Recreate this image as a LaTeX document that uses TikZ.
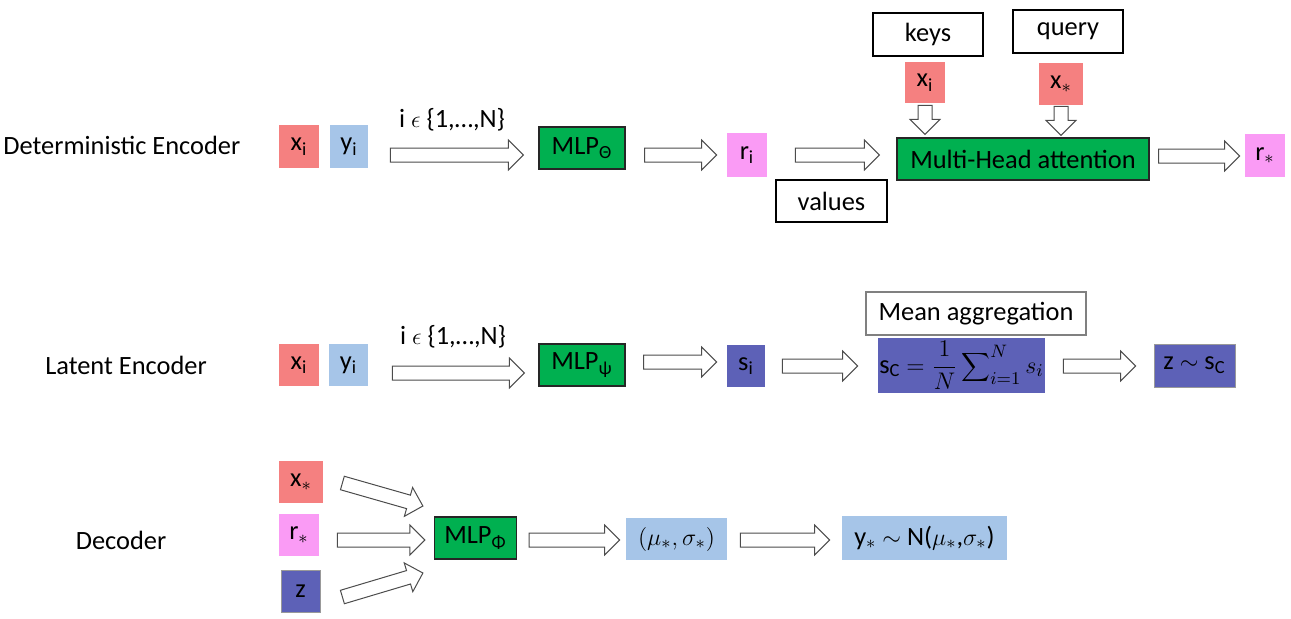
\documentclass[tikz,border=0pt]{standalone}
\usepackage{fontspec}
\setmainfont{Carlito}
\usetikzlibrary{calc}
\definecolor{cellred}{RGB}{245,128,128}
\definecolor{cellblue}{RGB}{166,197,232}
\definecolor{cellpink}{RGB}{250,155,245}
\definecolor{cellnavy}{RGB}{93,97,183}
\definecolor{mlpgreen}{RGB}{0,176,80}
\newcommand{\cellfont}{\fontsize{13.2}{16}\selectfont}
\newcommand{\lsub}[1]{\textsubscript{#1}}
\tikzset{
	cell/.style={inner sep=0pt, font=\cellfont, text=black},
	sz/.style 2 args={minimum width=#1*0.5pt, minimum height=#2*0.5pt}
}
\tikzset{
	redcell/.style={cell, fill=cellred},
	bluecell/.style={cell, fill=cellblue},
	pinkcell/.style={cell, fill=cellpink},
	navycell/.style={cell, fill=cellnavy},
	mlpbox/.style={cell, fill=mlpgreen, draw=black!85, line width=0.6pt},
	tagbox/.style={cell, fill=white, draw=black, line width=0.6pt},
	rowlabel/.style={inner sep=0pt, font=\cellfont}
}
\tikzset{
	fatarrow/.style={draw=black!70, fill=white, line width=0.5pt, line join=miter,
		to path={($(\tikztotarget)!7.5pt!(\tikztostart)$) coordinate (bh)
			($(\tikztostart)!3.5pt!90:(\tikztotarget)$)
			-- ($(bh)!3.5pt!90:(\tikztotarget)$) -- ($(bh)!7.5pt!90:(\tikztotarget)$)
			-- (\tikztotarget)
			-- ($(bh)!7.5pt!-90:(\tikztotarget)$) -- ($(bh)!3.5pt!-90:(\tikztotarget)$)
			-- ($(\tikztostart)!3.5pt!-90:(\tikztotarget)$) -- cycle}}
}
\begin{document}
\begin{tikzpicture}[x=0.5pt, y=-0.5pt]
      \useasboundingbox (0,0) rectangle (1291,618);
      % deterministic path
      \node[rowlabel, anchor=west] (detlab) at (3,145) {Deterministic Encoder};
      \node[redcell, sz={40}{43}] (xi1) at (299,146.5) {x\lsub{i}};
      \node[bluecell, sz={38}{43}] (yi1) at (349,146.5) {y\lsub{i}};
      \node[cell] (idx1) at (452,120) {i $\epsilon$ \{1,…,N\}};
      \node[mlpbox, sz={86}{42}] (mlp1) at (582,148) {MLP\lsub{Θ}};
      \node[pinkcell, sz={40}{44}] (ri) at (747,155) {r\lsub{i}};
      \node[tagbox, sz={111}{42}] (values) at (831.5,201) {values};
      \node[tagbox, sz={110}{43}] (keys) at (928,34.5) {keys};
      \node[tagbox, sz={110}{43}] (query) at (1068,31.5) {query};
      \node[redcell, sz={40}{41}] (xik) at (925,82.5) {x\lsub{i}};
      \node[redcell, sz={44}{42}] (xsq) at (1061,84) {x$_*$};
      \node[mlpbox, sz={252}{42}] (mha) at (1023,159) {Multi-Head attention};
      \node[pinkcell, sz={40}{43}] (rs1) at (1265,155.5) {r$_*$};
      \draw[fatarrow] ($(yi1.east)+(22,8.5)$) to ($(mlp1.west)+(-15,7)$);
      \draw[fatarrow] ($(mlp1.east)+(19,7)$) to ($(ri.west)+(-10,0)$);
      \draw[fatarrow] ($(ri.east)+(28,0)$) to ($(mha.west)+(-17,-4)$);
      \draw[fatarrow] ($(mha.east)+(9,-3)$) to ($(rs1.west)+(-5,0.5)$);
      \draw[fatarrow] ($(xik.south)+(0,2)$) to ($(xik.south |- mha.north)+(0,-3)$);
      \draw[fatarrow] ($(xsq.south)+(0,1)$) to ($(xsq.south |- mha.north)+(0,-2)$);
      % latent path
      \node[rowlabel] (latlab) at (126,365) {Latent Encoder};
      \node[redcell, sz={40}{42}] (xi2) at (299,365) {x\lsub{i}};
      \node[bluecell, sz={39}{42}] (yi2) at (348.5,365) {y\lsub{i}};
      \node[cell] (idx2) at (453,337) {i $\epsilon$ \{1,…,N\}};
      \node[mlpbox, sz={86}{42}] (mlp2) at (582,365) {MLP\lsub{ψ}};
      \node[navycell, sz={38}{42}] (si) at (746,366) {s\lsub{i}};
      \node[tagbox, draw=black!50, sz={220}{43}] (meanagg) at (976,313.5) {Mean aggregation};
      \node[navycell, sz={167}{55}] (sc) at (961.5,365.5) {s\lsub{C} $=\displaystyle\frac{1}{N}\sum\nolimits_{i=1}^{N} s_i$};
      \node[navycell, draw=black!40, sz={81}{43}] (zsc) at (1194.5,365.5) {z $\sim$ s\lsub{C}};
      \draw[fatarrow] ($(yi2.east)+(24,8)$) to ($(mlp2.west)+(-14,8)$);
      \draw[fatarrow] ($(mlp2.east)+(18,-3)$) to ($(si.west)+(-10,-4)$);
      \draw[fatarrow] ($(si.east)+(17,0)$) to ($(sc.west)+(-20,0.5)$);
      \draw[fatarrow] ($(sc.east)+(18,0.5)$) to ($(zsc.west)+(-18,0.5)$);
      % decoder path
      \node[rowlabel] (declab) at (121,540) {Decoder};
      \node[redcell, sz={44}{42}] (xs3) at (301,482) {x$_*$};
      \node[pinkcell, sz={40}{42}] (rs3) at (299,535) {r$_*$};
      \node[navycell, draw=black!40, sz={39}{42}] (z3) at (300.5,591) {z};
      \node[mlpbox, sz={82}{42}] (mlp3) at (475.5,538) {MLP\lsub{Φ}};
      \node[bluecell, sz={101}{42}] (musig) at (676.5,539) {$(\mu_*,\sigma_*)$};
      \node[bluecell, sz={165}{44}] (ydist) at (924.5,538) {y$_*$ $\sim$ N($\mu_*$,$\sigma_*$)};
      \draw[fatarrow] ($(xs3.east)+(19,1)$) to ($(mlp3.west)+(-11,-32)$);
      \draw[fatarrow] ($(rs3.east)+(18,5)$) to ($(mlp3.west)+(-9,2)$);
      \draw[fatarrow] ($(z3.east)+(22,6)$) to ($(mlp3.west)+(-11,35)$);
      \draw[fatarrow] ($(mlp3.east)+(12,2)$) to ($(musig.west)+(-6,1)$);
      \draw[fatarrow] ($(musig.east)+(13,1)$) to ($(ydist.west)+(-12,2)$);
    \end{tikzpicture}
\end{document}
